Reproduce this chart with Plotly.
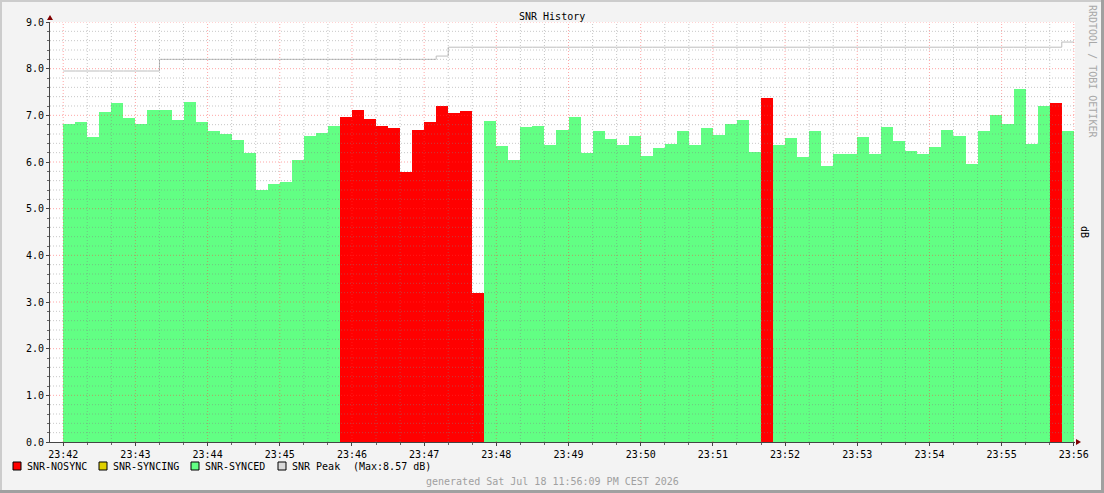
import numpy as np
import pandas as pd
import plotly.graph_objects as go

# samples every 10 s, starting 23:42:00
start = "2026-07-18 23:42:00"
step_s = 10

snr = [6.81, 6.86, 6.54, 7.07, 7.26, 6.94, 6.81, 7.11, 7.11, 6.90, 7.29, 6.86,
       6.66, 6.60, 6.47, 6.19, 5.39, 5.53, 5.58, 6.04, 6.56, 6.62, 6.78,
       6.96, 7.11, 6.92, 6.77, 6.73, 5.79, 6.69, 6.86, 7.20, 7.05, 7.09, 3.19,
       6.88, 6.34, 6.04, 6.75, 6.77, 6.36, 6.69, 6.96, 6.19, 6.66, 6.49, 6.36,
       6.56, 6.13, 6.30, 6.39, 6.66, 6.36, 6.73, 6.58, 6.81, 6.90, 6.21,
       7.37,
       6.36, 6.51, 6.11, 6.66, 5.91, 6.17, 6.17, 6.54, 6.17, 6.75, 6.45,
       6.24, 6.17, 6.32, 6.69, 6.56, 5.96, 6.66, 7.01, 6.81, 7.56, 6.39, 7.20,
       7.26, 6.66]
# N = no sync, S = synced
state = "S" * 23 + "N" * 12 + "S" * 23 + "N" + "S" * 23 + "N" + "S"
peak = [7.95] * 8 + [8.20] * 23 + [8.27] + [8.46] * 51 + [8.57]

W, H = 1104, 493
L, R, T, B = 50, 29, 22, 51
MONO = "DejaVu Sans Mono"


def px(x):
    return (x - L) / (W - L - R)


def py(y):
    return (H - B - y) / (H - T - B)


t0 = pd.Timestamp(start)
edges = t0 + pd.to_timedelta(np.arange(len(snr) + 1) * step_s, unit="s")
centers = edges[:-1] + pd.Timedelta(seconds=step_s / 2)

nosync = [v if s == "N" else None for v, s in zip(snr, state)]
synced = [v if s == "S" else None for v, s in zip(snr, state)]

fig = go.Figure()
fig.add_trace(go.Bar(x=centers, y=nosync, width=step_s * 1000, name="SNR-NOSYNC",
                     marker=dict(color="#ff0000", line_width=0)))
fig.add_trace(go.Bar(x=centers, y=synced, width=step_s * 1000, name="SNR-SYNCED",
                     marker=dict(color="#62ff84", line_width=0)))
fig.add_trace(go.Scatter(x=edges, y=peak + [peak[-1]], mode="lines", line_shape="hv",
                         line=dict(color="#bdbdbd", width=1), name="SNR Peak"))

x_lo = t0 - pd.Timedelta(seconds=11)
x_hi = t0 + pd.Timedelta(seconds=len(snr) * step_s + 1)

shapes = []
# grid on top of the areas, like rrdtool
for k in range(0, 43):
    t = t0 + pd.Timedelta(seconds=20 * k)
    major = k % 3 == 0
    shapes.append(dict(type="line", xref="x", yref="paper", x0=t, x1=t, y0=0, y1=1,
                       layer="above",
                       line=dict(color="rgba(255,60,60,0.45)" if major else "rgba(130,130,130,0.45)",
                                 width=1, dash="1px,2px")))
for k in range(1, 46):
    v = round(k * 0.2, 1)
    major = k % 5 == 0
    shapes.append(dict(type="line", xref="paper", yref="y", x0=0, x1=1, y0=v, y1=v,
                       layer="above",
                       line=dict(color="rgba(255,60,60,0.45)" if major else "rgba(130,130,130,0.45)",
                                 width=1, dash="1px,2px")))

# axis arrows
shapes.append(dict(type="path", xref="paper", yref="paper", fillcolor="#800000", line_width=0,
                   path=f"M{px(47)},{py(20)} L{px(53)},{py(20)} L{px(50)},{py(15)} Z"))
shapes.append(dict(type="path", xref="paper", yref="paper", fillcolor="#800000", line_width=0,
                   path=f"M{px(1076)},{py(439)} L{px(1076)},{py(445)} L{px(1081)},{py(442)} Z"))

# outer frame
shapes += [
    dict(type="line", xref="paper", yref="paper", x0=px(0), x1=px(W), y0=py(1), y1=py(1),
         line=dict(color="#cccccc", width=2)),
    dict(type="line", xref="paper", yref="paper", x0=px(1), x1=px(1), y0=py(0), y1=py(H),
         line=dict(color="#cccccc", width=2)),
    dict(type="line", xref="paper", yref="paper", x0=px(0), x1=px(W), y0=py(H - 1.5), y1=py(H - 1.5),
         line=dict(color="#a0a0a0", width=3)),
    dict(type="line", xref="paper", yref="paper", x0=px(W - 1.5), x1=px(W - 1.5), y0=py(0), y1=py(H),
         line=dict(color="#a0a0a0", width=3)),
]

# legend
legend_items = [("SNR-NOSYNC", "#ff0000", 13), ("SNR-SYNCING", "#e0d000", 99),
                ("SNR-SYNCED", "#62ff84", 191), ("SNR Peak", "#d8d8d8", 278)]
annotations = []
for label, color, x in legend_items:
    shapes.append(dict(type="rect", xref="paper", yref="paper", x0=px(x), x1=px(x + 8),
                       y0=py(470), y1=py(462), fillcolor=color, line=dict(color="black", width=1)))
    annotations.append(dict(text=label, x=px(x + 12), y=py(466), xref="paper", yref="paper",
                            xanchor="left", yanchor="middle", showarrow=False,
                            font=dict(family=MONO, size=10, color="black")))
annotations.append(dict(text=f"(Max:{max(peak):.2f} dB)", x=px(351), y=py(466), xref="paper",
                        yref="paper", xanchor="left", yanchor="middle", showarrow=False,
                        font=dict(family=MONO, size=10, color="black")))
annotations.append(dict(text="generated Sat Jul 18 11:56:09 PM CEST 2026", x=px(552), y=py(481),
                        xref="paper", yref="paper", xanchor="center", yanchor="middle",
                        showarrow=False, font=dict(family=MONO, size=10, color="#a0a0a0")))
annotations.append(dict(text="SNR History", x=px(552), y=py(16), xref="paper", yref="paper",
                        xanchor="center", yanchor="middle", showarrow=False,
                        font=dict(family=MONO, size=10, color="black")))
annotations.append(dict(text="RRDTOOL / TOBI OETIKER", x=px(1093), y=py(71), xref="paper",
                        yref="paper", textangle=90, xanchor="center", yanchor="middle",
                        showarrow=False, font=dict(family=MONO, size=10, color="#a8a8a8")))
annotations.append(dict(text="dB", x=px(1085), y=py(232), xref="paper", yref="paper",
                        textangle=90, xanchor="center", yanchor="middle", showarrow=False,
                        font=dict(family=MONO, size=10, color="black")))

fig.update_layout(
    width=W, height=H, margin=dict(l=L, r=R, t=T, b=B),
    paper_bgcolor="#f3f3f3", plot_bgcolor="white",
    barmode="overlay", bargap=0, showlegend=False,
    shapes=shapes, annotations=annotations,
)
fig.update_xaxes(type="date", range=[x_lo, x_hi], tickformat="%H:%M", dtick=60000, tick0=t0,
                 showgrid=False, zeroline=False, showline=True, linecolor="#444444",
                 ticks="outside", ticklen=3, tickcolor="#444444",
                 minor=dict(dtick=20000, tick0=t0, ticks="outside", ticklen=2,
                            tickcolor="#666666", showgrid=False),
                 tickfont=dict(family=MONO, size=10, color="black"))
fig.update_yaxes(range=[0, 9], dtick=1, tickformat=".1f", showgrid=False, zeroline=False,
                 showline=True, linecolor="#444444", ticks="outside", ticklen=3,
                 tickcolor="#444444",
                 minor=dict(dtick=0.2, ticks="outside", ticklen=2, tickcolor="#666666",
                            showgrid=False),
                 tickfont=dict(family=MONO, size=10, color="black"))

fig.write_html("out.html", config={"displayModeBar": False},
               post_script="document.body.style.margin='0';")
